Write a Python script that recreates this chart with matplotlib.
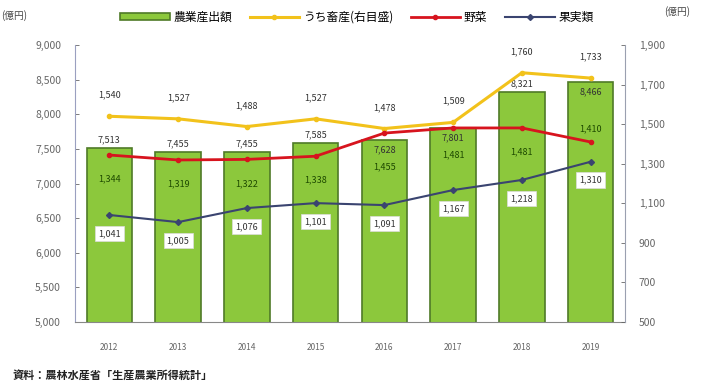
import matplotlib
matplotlib.use("Agg")
import matplotlib.pyplot as plt
from matplotlib.ticker import FuncFormatter

plt.rcParams['font.family'] = ['Noto Sans CJK JP', 'DejaVu Sans']

years = ["2012", "2013", "2014", "2015", "2016", "2017", "2018", "2019"]
total = [7513, 7455, 7455, 7585, 7628, 7801, 8321, 8466]
yellow = [1540, 1527, 1488, 1527, 1478, 1509, 1760, 1733]
red = [1344, 1319, 1322, 1338, 1455, 1481, 1481, 1410]
blue = [1041, 1005, 1076, 1101, 1091, 1167, 1218, 1310]

label_total = "農業産出額"
label_yellow = "うち畜産(右目盛)"
label_red = "野菜"
label_blue = "果実類"

fig = plt.figure(figsize=(7.28, 3.85), dpi=100)
ax = fig.add_axes([0.103, 0.1636, 0.7555, 0.7194])
ax2 = ax.twinx()

x = list(range(len(years)))
bars = ax.bar(x, total, width=0.66, color="#8cc83c", edgecolor="#4f7a28",
              linewidth=1.2, zorder=2, label=label_total)
ax.set_ylim(5000, 9000)
ax.set_yticks(range(5000, 9001, 500))
ax.set_xlim(-0.5, len(years) - 0.5)
ax.set_xticks(x)
ax.set_xticklabels(years)

ax2.set_ylim(500, 1900)
ax2.set_yticks(range(500, 1901, 200))

fmt = FuncFormatter(lambda v, p: f"{int(v):,}")
ax.yaxis.set_major_formatter(fmt)
ax2.yaxis.set_major_formatter(fmt)

for a in (ax, ax2):
    a.spines['top'].set_visible(False)
    a.tick_params(axis='y', labelsize=7.5, colors="#666666", length=3,
                  width=0.6, direction='in', pad=10)
ax.spines['left'].set_color("#9aa0c0")
ax.spines['right'].set_visible(False)
ax2.spines['left'].set_visible(False)
ax2.spines['right'].set_color("#9aa0b0")
ax.spines['bottom'].set_color("#888888")
ax2.spines['bottom'].set_visible(False)
ax.tick_params(axis='x', length=0, pad=15, labelsize=6, colors="#666666")

l1, = ax2.plot(x, yellow, color="#f2c21b", lw=2.2, marker='o', ms=3,
               zorder=3, label=label_yellow)
l2, = ax2.plot(x, red, color="#d7141e", lw=2.0, marker='o', ms=3,
               zorder=4, label=label_red)
l3, = ax2.plot(x, blue, color="#3a4470", lw=1.5, marker='D', ms=3,
               zorder=5, label=label_blue)
ax.set_zorder(1)
ax2.set_zorder(2)
ax2.patch.set_visible(False)

fig.canvas.draw()
PT = 72.0 / fig.dpi


def py(axis, v):
    return axis.transData.transform((0, v))[1]


txt = dict(fontsize=6.5, ha='center', color="#333333", zorder=6)
inside = []
for i, v in enumerate(total):
    gap = py(ax2, yellow[i]) - py(ax, v)
    if gap > 15:
        inside.append(False)
        ax.annotate(f"{v:,}", (i, v), xytext=(0, 3), textcoords='offset points',
                    va='bottom', **txt)
    else:
        inside.append(True)
        ax.annotate(f"{v:,}", (i, v), xytext=(0, -4), textcoords='offset points',
                    va='top', **txt)
for i, v in enumerate(yellow):
    ax2.annotate(f"{v:,}", (i, v), xytext=(0, 12), textcoords='offset points',
                 va='bottom', **txt)
for i, v in enumerate(red):
    below_gap = py(ax2, v) - py(ax2, blue[i])
    top_clear = py(ax, total[i]) - py(ax2, v)
    if below_gap > 40 or top_clear < 25:
        off = -14
        if inside[i]:
            off = min(off, top_clear * PT - 16)
        ax2.annotate(f"{v:,}", (i, v), xytext=(0, off), textcoords='offset points',
                     va='top', fontsize=6.5, ha='center', color="#1e4a00", zorder=6)
    else:
        ax2.annotate(f"{v:,}", (i, v), xytext=(0, 6), textcoords='offset points',
                     va='bottom', fontsize=6.5, ha='center', color="#1e4a00", zorder=6)
for i, v in enumerate(blue):
    ax2.annotate(f"{v:,}", (i, v), xytext=(0, -10), textcoords='offset points',
                 va='top', fontsize=6.5, ha='center', color="#333333", zorder=6,
                 bbox=dict(boxstyle='square,pad=0.35', fc='white', ec='#dddddd', lw=0.5))

fig.legend(handles=[bars, l1, l2, l3], loc='center', bbox_to_anchor=(0.49, 0.955),
           ncol=4, frameon=False, fontsize=8.5, handlelength=4.2, handleheight=0.6,
           columnspacing=1.5, handletextpad=0.3)

fig.text(0.002, 0.975, "(億円)", fontsize=7, color="#444444", va='top')
fig.text(0.912, 0.985, "(億円)", fontsize=7, color="#444444", va='top')
fig.text(0.018, 0.026, "資料：農林水産省「生産農業所得統計」", fontsize=8,
         color="#222222", va='center', fontweight='bold')

fig.savefig("out.png", dpi=100)
